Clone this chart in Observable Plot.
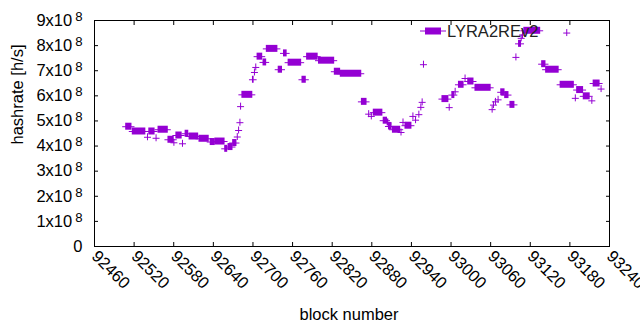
<!DOCTYPE html>
<html><head><meta charset="utf-8">
<script src="https://cdn.jsdelivr.net/npm/d3@7"></script>
<script src="https://cdn.jsdelivr.net/npm/@observablehq/plot@0.6"></script>
<style>body{margin:0;background:#fff}</style>
</head><body><div id="chart"></div>
<script>
// runs of consecutive blocks sharing one hashrate value (value in units of 1e8 h/s)
const runStart = [92508,92518,92541,92543,92554,92557,92572,92581,92584,92594,92598,92604,92619,92636,92643,92658,92663,92670,92677,92679,92681,92682,92684,92700,92703,92705,92707,92716,92721,92739,92747,92754,92775,92782,92800,92824,92833,92865,92876,92880,92883,92898,92904,92906,92912,92925,92928,92931,92943,92947,92952,92955,92957,92959,92987,92998,93002,93007,93012,93022,93026,93037,93063,93065,93068,93072,93076,93082,93090,93099,93103,93107,93109,93111,93138,93144,93166,93176,93189,93191,93201,93214,93216,93228];
const runEnd   = [92516,92537,92541,92551,92554,92571,92580,92581,92592,92594,92602,92617,92633,92642,92657,92661,92669,92675,92677,92679,92681,92682,92699,92701,92703,92705,92714,92720,92737,92744,92751,92773,92780,92798,92823,92832,92864,92872,92876,92880,92896,92903,92905,92910,92923,92925,92928,92940,92943,92947,92952,92955,92957,92959,92996,92998,93005,93007,93019,93022,93034,93060,93063,93065,93068,93072,93081,93087,93096,93099,93106,93107,93109,93135,93143,93163,93186,93176,93189,93200,93210,93214,93225,93228];
const runValue = [4.77,4.58,4.35,4.58,4.31,4.65,4.25,4.13,4.42,4.09,4.49,4.38,4.29,4.16,4.18,3.89,3.96,4.12,4.36,4.62,4.93,5.57,6.04,6.64,6.93,7.13,7.56,7.33,7.87,7.04,7.69,7.32,6.64,7.56,7.40,6.96,6.88,5.76,5.27,5.18,5.33,5.01,4.94,4.78,4.65,4.54,4.94,4.81,5.18,5.03,5.25,5.54,5.74,7.24,5.87,5.53,6.03,6.16,6.44,6.69,6.57,6.32,5.45,5.63,5.76,5.84,6.14,6.03,5.64,7.53,8.07,8.29,8.42,8.59,7.26,7.04,6.44,8.50,5.90,6.23,5.98,5.80,6.49,6.27];
const xTicks = [92460,92520,92580,92640,92700,92760,92820,92880,92940,93000,93060,93120,93180,93240];
const yTicks = [0,1,2,3,4,5,6,7,8,9];
const seriesName = "LYRA2REv2";
const xLabel = "block number";
const yLabel = "hashrate [h/s]";

const runs = runStart.map((s, i) => ({start: s, end: runEnd[i], value: runValue[i]}));
const color = "#9400d3";

const chart = Plot.plot({
  width: 640, height: 330,
  marginLeft: 94, marginRight: 31, marginTop: 20, marginBottom: 84,
  style: {fontFamily: "'Liberation Sans', Arial, sans-serif", fontSize: "16.5px", color: "black", background: "white", overflow: "visible"},
  x: {domain: [92460, 93240]},
  y: {domain: [0, 9]},
  marks: [
    Plot.axisX({ticks: xTicks, tickSize: -4, text: null, label: null}),
    Plot.axisX({anchor: "top", ticks: xTicks, tickSize: -4, text: null, label: null}),
    Plot.axisX({ticks: xTicks, tickSize: 0, tickPadding: 7, tickRotate: 45, label: null, tickFormat: d => String(d)}),
    Plot.axisY({ticks: yTicks, tickSize: -4, text: null, label: null}),
    Plot.axisY({anchor: "right", ticks: yTicks, tickSize: -4, text: null, label: null}),
    Plot.axisY({ticks: yTicks, tickSize: 0, tickPadding: 12, label: null, tickFormat: d => d === 0 ? "0" : `${d}x10`}),
    Plot.frame({stroke: "black"}),
    Plot.rect(runs, {x1: "start", x2: "end", y1: "value", y2: "value", fill: color,
      insetLeft: -0.5, insetRight: -0.5, insetTop: -3.5, insetBottom: -3.5}),
    Plot.ruleY(runs, {x1: "start", x2: "end", y: "value", stroke: color, strokeWidth: 1,
      insetLeft: -3.5, insetRight: -3.5}),
    Plot.text([xLabel], {frameAnchor: "bottom", dx: -3, dy: 73, text: d => d}),
    Plot.text([yLabel], {frameAnchor: "left", dx: -77, dy: 11, rotate: -90, text: d => d})
  ]
});

// superscript exponent on y tick labels
d3.select(chart).selectAll('g[aria-label="y-axis tick label"] text').each(function() {
  const t = d3.select(this);
  const s = t.text();
  if (s && s !== "0") {
    t.append("tspan").attr("dx", 3).attr("dy", -5).attr("font-size", "0.8em").text("8");
  }
});

// legend (key sample + label)
const svg = d3.select(chart);
const key = svg.append("g").attr("aria-label", "legend");
key.append("line").attr("x1", 420).attr("x2", 446).attr("y1", 31).attr("y2", 31).attr("stroke", color);
key.append("rect").attr("x", 425).attr("y", 27.5).attr("width", 16).attr("height", 7).attr("fill", color);
key.append("text").attr("x", 447).attr("y", 31).attr("dy", "0.36em").attr("text-anchor", "start").attr("fill", "#222").text(seriesName);

document.getElementById("chart").append(chart);
</script>
</body></html>
